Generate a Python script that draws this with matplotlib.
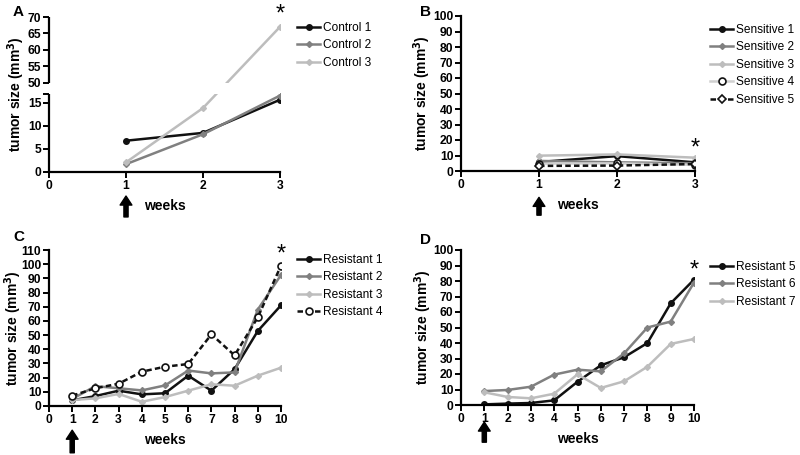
import numpy as np
import matplotlib
matplotlib.use('Agg')
import matplotlib.pyplot as plt

plt.rcParams['font.family'] = ['Liberation Sans', 'DejaVu Sans']

# panel A
weeks_a = [1, 2, 3]
control1 = [6.8, 8.5, 15.7]
control2 = [1.7, 8.2, 16.6]
control3 = [2.1, 13.9, 67.0]

# panel B
weeks_b = [1, 2, 3]
sens1 = [5.8, 9.6, 5.6]
sens2 = [6.5, 5.6, 5.0]
sens3 = [9.9, 10.7, 8.6]
sens4 = [4.8, 4.9, 4.0]
sens5 = [3.3, 3.5, 4.5]

# panel C
weeks_c = list(range(1, 11))
res1 = [4.0, 7.0, 10.8, 8.2, 9.0, 21.4, 10.8, 26.0, 52.9, 71.0]
res2 = [5.0, 14.0, 12.5, 11.0, 14.5, 25.0, 23.0, 23.7, 68.0, 92.4]
res3 = [4.2, 5.4, 8.5, 3.0, 6.3, 10.8, 15.3, 14.3, 21.4, 27.0]
res4 = [7.3, 12.5, 15.7, 24.2, 27.7, 29.6, 50.5, 35.7, 62.5, 99.0]

# panel D
weeks_d = list(range(1, 11))
res5 = [0.4, 0.9, 1.3, 3.0, 15.0, 25.6, 30.8, 40.0, 65.6, 80.9]
res6 = [9.0, 9.7, 11.8, 19.6, 22.8, 21.7, 33.3, 50.0, 53.8, 79.0]
res7 = [8.2, 5.2, 4.3, 7.3, 19.8, 11.0, 15.3, 24.7, 39.4, 42.6]

BLACK = '#111111'
DARK = '#808080'
LIGHT = '#bdbdbd'

fig = plt.figure(figsize=(8, 4.55), dpi=100)

def W(px):
    return px / 800

def H(px):
    return px / 455

def make_ax(left, right, bottom, top):
    ax = fig.add_axes([W(left), 1 - H(bottom), W(right - left), H(bottom - top)])
    for s in ['top', 'right']:
        ax.spines[s].set_visible(False)
    for s in ['left', 'bottom']:
        ax.spines[s].set_linewidth(1.6)
    ax.tick_params(width=1.4, length=4, labelsize=8.7, pad=1.5)
    return ax

def finish(ax, letter, arrow_x, arrow_y, lx):
    ax.set_xlabel('weeks', fontsize=10, fontweight='bold', labelpad=5)
    ax.set_ylabel('tumor size (mm$^\\mathbf{3}$)', fontsize=10, fontweight='bold')
    ax.yaxis.set_label_coords(lx, 0.5)
    for lab in ax.get_xticklabels() + ax.get_yticklabels():
        lab.set_fontweight('bold')
    ax.annotate('', xy=(arrow_x, arrow_y[0]), xytext=(arrow_x, arrow_y[1]),
                xycoords=('data', 'axes fraction'), textcoords=('data', 'axes fraction'),
                arrowprops=dict(width=3, headwidth=8.5, headlength=6.5, color='black'),
                annotation_clip=False)
    fig.text(W(letter[0]), 1 - H(letter[1]), letter[2], fontsize=11,
             fontweight='bold', ha='left', va='center')

def legend(ax, x, y):
    ax.legend(loc='upper left', bbox_to_anchor=(W(x), 1 - H(y)),
              bbox_transform=fig.transFigure, frameon=False, fontsize=8.6,
              handlelength=1.95, handletextpad=0.25, labelspacing=0.46,
              borderpad=0, borderaxespad=0)

def star(ax, x, y, coords='data'):
    ax.annotate('*', xy=(x, y), xycoords=('data', coords), ha='center',
                va='top', fontsize=17, annotation_clip=False)

lw = 1.8

# ---------- A (broken axis) ----------
LO, GAP, K, HI0 = 16.9, 2.52, 0.713, 50.0

def fwd(y):
    y = np.asarray(y, dtype=float)
    return np.where(y <= LO, y,
                    np.where(y < HI0, LO + (y - LO) / (HI0 - LO) * GAP,
                             LO + GAP + (y - HI0) * K))

def inv(t):
    t = np.asarray(t, dtype=float)
    return np.where(t <= LO, t,
                    np.where(t < LO + GAP, LO + (t - LO) / GAP * (HI0 - LO),
                             HI0 + (t - LO - GAP) / K))

axA = make_ax(49, 280, 172, 17)
axA.set_yscale('function', functions=(fwd, inv))
axA.plot(weeks_a, control1, color=BLACK, lw=lw, marker='o', ms=4, label='Control 1')
axA.plot(weeks_a, control2, color=DARK, lw=lw, marker='D', ms=3, label='Control 2')
axA.plot(weeks_a, control3, color=LIGHT, lw=lw, marker='D', ms=3, label='Control 3')
axA.axhspan(LO + 0.05, HI0 - 0.3, color='white', zorder=5, lw=0)
axA.set_xlim(0, 3)
axA.set_ylim(0, 70)
axA.set_xticks([0, 1, 2, 3])
axA.set_yticks([0, 5, 10, 15, LO, 50, 55, 60, 65, 70])
axA.set_yticklabels(['0', '5', '10', '15', '', '50', '55', '60', '65', '70'])
axA.spines['left'].set_visible(False)
axA.vlines(0, 0, LO, color='black', lw=1.6, clip_on=False, zorder=6)
axA.vlines(0, HI0, 70, color='black', lw=1.6, clip_on=False, zorder=6)
star(axA, 3, 1.085, 'axes fraction')
legend(axA, 297, 22)
finish(axA, (13, 12, 'A'), 1, (-0.155, -0.29), -0.097)

# ---------- B ----------
axB = make_ax(461, 695, 171, 16)
axB.plot(weeks_b, sens1, color=BLACK, lw=lw, marker='o', ms=4, label='Sensitive 1')
axB.plot(weeks_b, sens2, color=DARK, lw=lw, marker='D', ms=3, label='Sensitive 2')
axB.plot(weeks_b, sens3, color=LIGHT, lw=lw, marker='D', ms=3, label='Sensitive 3')
axB.plot(weeks_b, sens4, color='#d0d0d0', lw=lw, marker='o', ms=5, mfc='white',
         mec=BLACK, mew=1.2, label='Sensitive 4')
axB.plot(weeks_b, sens5, color=BLACK, lw=lw, ls=(0, (2.2, 1.3)), marker='D', ms=4,
         mfc='white', mec=BLACK, mew=1.2, label='Sensitive 5')
axB.set_xlim(0, 3)
axB.set_ylim(0, 100)
axB.set_xticks([0, 1, 2, 3])
axB.set_yticks(range(0, 101, 10))
star(axB, 3, 21.5)
legend(axB, 710, 24)
finish(axB, (420, 12, 'B'), 1, (-0.17, -0.285), -0.118)

# ---------- C ----------
axC = make_ax(49, 281, 406, 250)
axC.plot(weeks_c, res1, color=BLACK, lw=lw, marker='o', ms=4, label='Resistant 1')
axC.plot(weeks_c, res2, color=DARK, lw=lw, marker='D', ms=3, label='Resistant 2')
axC.plot(weeks_c, res3, color=LIGHT, lw=lw, marker='D', ms=3, label='Resistant 3')
axC.plot(weeks_c, res4, color=BLACK, lw=lw, ls=(0, (2.2, 1.3)), marker='o', ms=5,
         mfc='white', mec=BLACK, mew=1.2, label='Resistant 4')
axC.set_xlim(0, 10)
axC.set_ylim(0, 110)
axC.set_xticks(range(0, 11))
axC.set_yticks(range(0, 111, 10))
star(axC, 10, 1.04, 'axes fraction')
legend(axC, 297, 254)
finish(axC, (13, 237, 'C'), 1, (-0.155, -0.3), -0.106)

# ---------- D ----------
axD = make_ax(461, 694, 405, 250)
axD.plot(weeks_d, res5, color=BLACK, lw=lw, marker='o', ms=4, label='Resistant 5')
axD.plot(weeks_d, res6, color=DARK, lw=lw, marker='D', ms=3, label='Resistant 6')
axD.plot(weeks_d, res7, color=LIGHT, lw=lw, marker='D', ms=3, label='Resistant 7')
axD.set_xlim(0, 10)
axD.set_ylim(0, 100)
axD.set_xticks(range(0, 11))
axD.set_yticks(range(0, 101, 10))
star(axD, 10, 94)
legend(axD, 710, 261)
finish(axD, (420, 240, 'D'), 1, (-0.11, -0.24), -0.118)

fig.savefig('out.png', dpi=100, facecolor='white')
